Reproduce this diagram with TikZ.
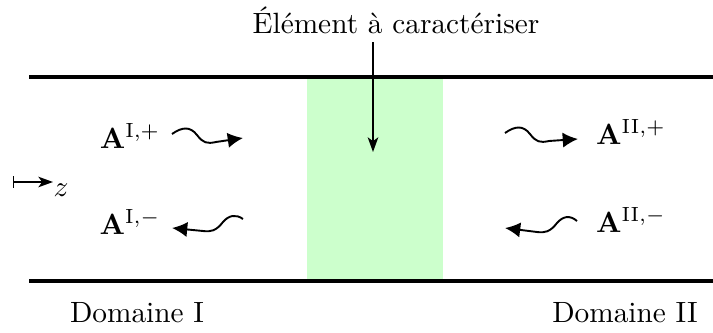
\documentclass[tikz,border=0pt]{standalone}
\usetikzlibrary{arrows.meta}
\begin{document}
\begin{tikzpicture}[x=0.341pt,y=-0.341pt,
  wall/.style={line width=1.2pt},
  wave/.style={line width=0.65pt,-{Latex[length=5.2pt,width=5.2pt]}},
  lbl/.style={inner sep=0pt}]
\useasboundingbox (0,0) rectangle (713,333);
\fill[green!20] (307,77) rectangle (443,281);
\draw[wall] (29,77) -- (713,77);
\draw[wall] (29,281) -- (713,281);
\node[lbl] (elem) at (396,20) {Élément à caractériser};
\coordinate (elemtip) at (373,152);
\draw[line width=0.5pt,-{Stealth[length=5pt,width=3.6pt,inset=1.3pt]}] (373,42) -- (elemtip);
% z axis
\coordinate (z0) at (13,182);
\coordinate (z1) at (53,182);
\draw[line width=0.5pt,{Bar[width=4pt]}-{Stealth[length=5pt,width=3.6pt,inset=1.3pt]}] (z0) -- (z1);
\node[lbl] (z) at (61,190) {$z$};
% amplitudes
\node[lbl] (a1p) at (130,136) {$\mathbf{A}^{\mathrm{I},+}$};
\node[lbl] (a1m) at (130,222) {$\mathbf{A}^{\mathrm{I},-}$};
\node[lbl] (a2p) at (631,132) {$\mathbf{A}^{\mathrm{II},+}$};
\node[lbl] (a2m) at (631,220) {$\mathbf{A}^{\mathrm{II},-}$};
% waves
\coordinate (w1s) at (172,134); \coordinate (w1e) at (243,138);
\draw[wave] (w1s) .. controls (182,127) and (190,126) .. (197,135) .. controls (203,143) and (207,144) .. (216,142) -- (w1e);
\coordinate (w2s) at (243,219); \coordinate (w2e) at (172,228);
\draw[wave] (w2s) .. controls (236,214) and (229,215) .. (223,222) .. controls (216,231) and (211,232) .. (203,231) -- (w2e);
\coordinate (w3s) at (505,133); \coordinate (w3e) at (578,139);
\draw[wave] (w3s) .. controls (515,126) and (523,125) .. (530,134) .. controls (536,142) and (540,143) .. (549,141) -- (w3e);
\coordinate (w4s) at (577,221); \coordinate (w4e) at (505,228);
\draw[wave] (w4s) .. controls (570,215) and (563,216) .. (557,223) .. controls (550,232) and (545,233) .. (537,232) -- (w4e);
% domains
\node[lbl] (d1) at (137,313) {Domaine I};
\node[lbl] (d2) at (625,313) {Domaine II};
\end{tikzpicture}
\end{document}
